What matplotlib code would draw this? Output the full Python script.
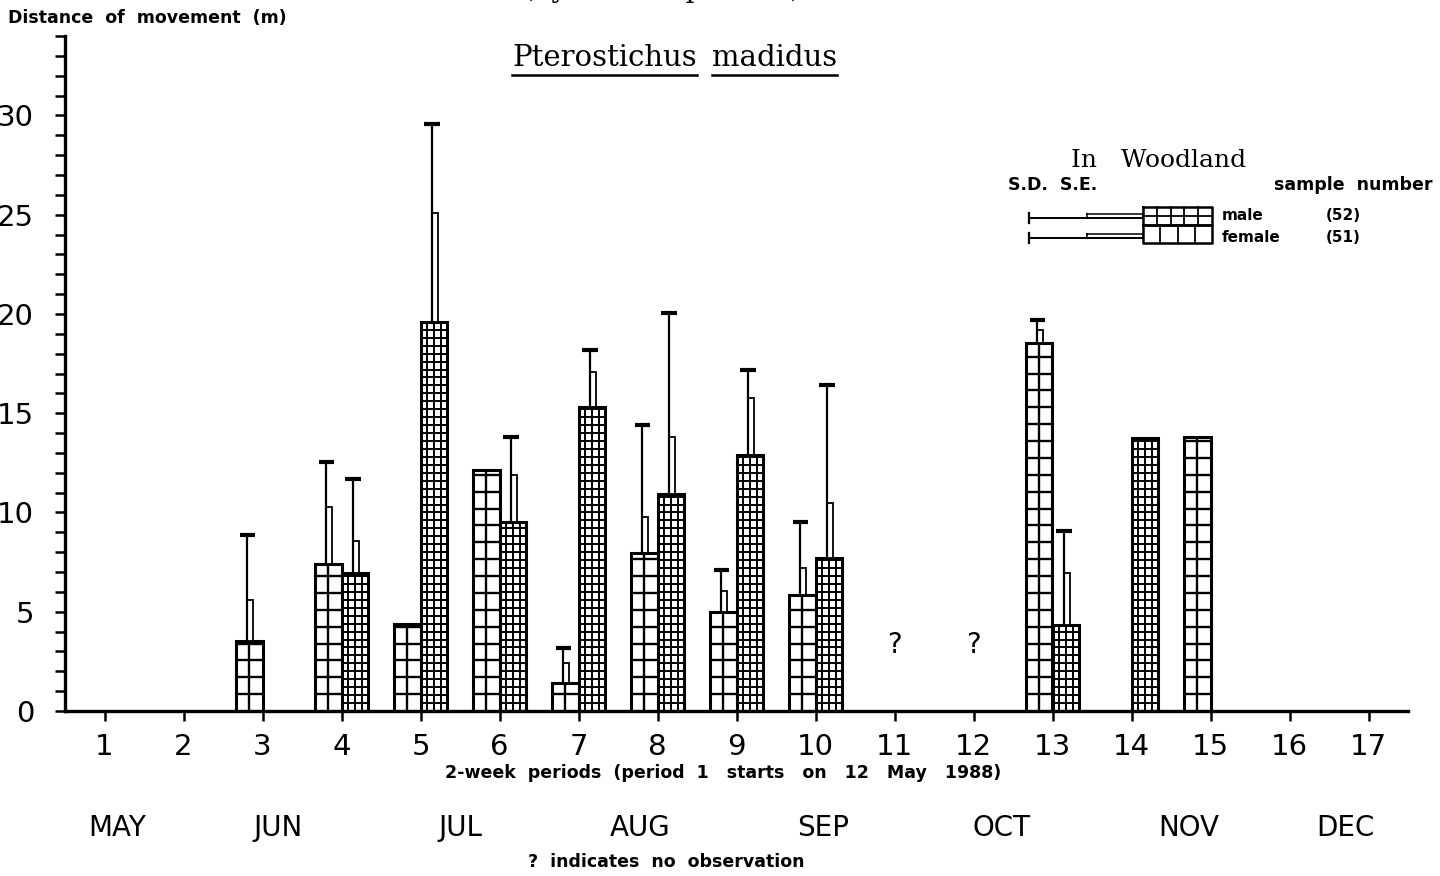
import numpy as np
import matplotlib.pyplot as plt
from matplotlib.patches import Rectangle
from matplotlib.lines import Line2D
from matplotlib.transforms import blended_transform_factory

nan = np.nan

# 2-week periods, period 1 starts on 12 May 1988
periods = np.arange(1, 18)
female_mean = [nan, nan, 3.55, 7.41, 4.39, 12.15, 1.41, 7.98, 5.01, 5.85, nan, nan, 18.54, nan, 13.8, nan, nan]
female_sd = [nan, nan, 8.87, 12.56, nan, nan, 3.18, 14.42, 7.11, 9.5, nan, nan, 19.68, nan, nan, nan, nan]
female_se = [nan, nan, 5.6, 10.3, nan, nan, 2.42, 9.75, 6.02, 7.2, nan, nan, 19.2, nan, nan, nan, nan]
male_mean = [nan, nan, nan, 6.94, 19.6, 9.53, 15.33, 10.94, 12.91, 7.73, nan, nan, 4.34, 13.75, nan, nan, nan]
male_sd = [nan, nan, nan, 11.7, 29.55, 13.8, 18.17, 20.07, 17.2, 16.44, nan, nan, 9.09, nan, nan, nan, nan]
male_se = [nan, nan, nan, 8.54, 25.1, 11.9, 17.06, 13.8, 15.77, 10.47, nan, nan, 6.94, nan, nan, nan, nan]
no_obs = [11, 12]
n_male, n_female = 52, 51

months = ["MAY", "JUN", "JUL", "AUG", "SEP", "OCT", "NOV", "DEC"]
month_pos = [1.16, 3.2, 5.51, 7.78, 10.1, 12.35, 14.72, 16.71]

W = 0.34
FW, FH = 1440, 876
SANS = "DejaVu Sans"
SERIF = "DejaVu Serif"

fig = plt.figure(figsize=(FW / 100, FH / 100), dpi=100)
ax = fig.add_axes([65 / FW, 1 - 711 / FH, (1408 - 65) / FW, (711 - 36) / FH])
ax.set_xlim(0.5, 17.5)
ax.set_ylim(0, 34)


def px(x, y):
    # figure pixel (from top-left) -> figure fraction
    return x / FW, 1 - y / FH


def grid_bar(x0, h, ncols, row, lw_in):
    ax.bar(x0, h, width=W, align="edge", facecolor="white", edgecolor="black", linewidth=2.2, zorder=2)
    xs = [x0 + k * W / ncols for k in range(1, ncols)]
    ax.vlines(xs, 0, h, color="black", linewidth=lw_in, zorder=3)
    ys = np.arange(row, h, row)
    ax.hlines(ys, x0, x0 + W, color="black", linewidth=lw_in, zorder=3)


def err_bars(xc, m, sd, se):
    if not np.isnan(se):
        ax.add_patch(Rectangle((xc, m), 0.07, se - m, facecolor="white", edgecolor="black", linewidth=1.3, zorder=4))
    if not np.isnan(sd):
        ax.vlines(xc, m, sd, color="black", linewidth=1.6, zorder=5)
        ax.hlines(sd, xc - 0.1, xc + 0.1, color="black", linewidth=3, zorder=5)


for i, p in enumerate(periods):
    if not np.isnan(female_mean[i]):
        grid_bar(p - W, female_mean[i], 2, 0.85, 1.7)
        err_bars(p - W / 2 - 0.02, female_mean[i], female_sd[i], female_se[i])
    if not np.isnan(male_mean[i]):
        grid_bar(p, male_mean[i], 4, 0.4, 1.4)
        err_bars(p + W / 2 - 0.02, male_mean[i], male_sd[i], male_se[i])

for p in no_obs:
    ax.text(p, 3.33, "?", fontsize=20, ha="center", va="center", family=SANS)

# axes
for s in ["top", "right"]:
    ax.spines[s].set_visible(False)
for s in ["left", "bottom"]:
    ax.spines[s].set_linewidth(2.4)
ax.set_yticks(range(0, 31, 5))
ax.set_yticks(range(0, 35), minor=True)
ax.set_xticks(periods)
ax.tick_params(axis="y", which="both", direction="out", length=7.2, width=1.8, labelsize=21, pad=15)
ax.tick_params(axis="x", which="major", direction="out", length=7.2, width=1.8, labelsize=21, pad=8.5)

fig.text(*px(8, 18), "Distance  of  movement  (m)", fontsize=12.5, fontweight="bold", ha="left", va="center", family=SANS)

# title, partly cut off at top
fig.text(*px(662, -3), "(by 2-week periods)", fontsize=20, ha="center", va="baseline", family=SERIF)
t1 = fig.text(*px(697, 66), "Pterostichus", fontsize=21, ha="right", va="baseline", family=SERIF)
t2 = fig.text(*px(712, 66), "madidus", fontsize=21, ha="left", va="baseline", family=SERIF)

fig.text(*px(1159, 167), "In   Woodland", fontsize=18, ha="center", va="baseline", family=SERIF)
fig.text(*px(1008, 185), "S.D.  S.E.", fontsize=12.5, fontweight="bold", ha="left", va="center", family=SANS)
fig.text(*px(1432, 185), "sample  number", fontsize=12.5, fontweight="bold", ha="right", va="center", family=SANS)
fig.text(*px(1222, 216), "male", fontsize=11, fontweight="bold", ha="left", va="center", family=SANS)
fig.text(*px(1326, 216), f"({n_male})", fontsize=11, fontweight="bold", ha="left", va="center", family=SANS)
fig.text(*px(1222, 238), "female", fontsize=11, fontweight="bold", ha="left", va="center", family=SANS)
fig.text(*px(1326, 238), f"({n_female})", fontsize=11, fontweight="bold", ha="left", va="center", family=SANS)

# legend key
tf = fig.transFigure


def fline(xs, ys, lw):
    pts = [px(x, y) for x, y in zip(xs, ys)]
    fig.add_artist(Line2D([a for a, b in pts], [b for a, b in pts], color="black", linewidth=lw, transform=tf))


def fgrid(x0, y0, x1, y1, ncols, nrows):
    fline([x0, x1, x1, x0, x0], [y0, y0, y1, y1, y0], 1.8)
    for k in range(1, ncols):
        xx = x0 + k * (x1 - x0) / ncols
        fline([xx, xx], [y0, y1], 1.3)
    for k in range(1, nrows):
        yy = y0 + k * (y1 - y0) / nrows
        fline([x0, x1], [yy, yy], 1.3)


fgrid(1143, 207, 1212, 225, 5, 2)
fgrid(1143, 225, 1212, 243, 4, 1)
for yl in [218, 238]:
    fline([1029, 1143], [yl, yl], 1.4)
    fline([1029, 1029], [yl - 5, yl + 5], 1.6)
    fline([1087, 1143, 1143, 1087, 1087], [yl - 4, yl - 4, yl, yl, yl - 4], 1.1)

# x axis texts
fig.text(*px(723, 773), "2-week  periods  (period  1   starts   on   12   May   1988)", fontsize=12.5,
         fontweight="bold", ha="center", va="center", family=SANS)
btf = blended_transform_factory(ax.transData, fig.transFigure)
for m, pos in zip(months, month_pos):
    ax.text(pos, 1 - 828 / FH, m, transform=btf, fontsize=20, ha="center", va="center", family=SANS)
fig.text(*px(666, 862), "?  indicates  no  observation", fontsize=12.5, fontweight="bold",
         ha="center", va="center", family=SANS)

# underline the species name word by word
fig.canvas.draw()
inv = fig.transFigure.inverted()
for t in [t1, t2]:
    bb = t.get_window_extent()
    (xa, ya), (xb, yb) = inv.transform([[bb.x0, bb.y0], [bb.x1, bb.y0]])
    fig.add_artist(Line2D([xa, xb], [ya - 0.003, ya - 0.003], color="black", linewidth=1.8, transform=tf))

fig.savefig("out.png", dpi=100)
